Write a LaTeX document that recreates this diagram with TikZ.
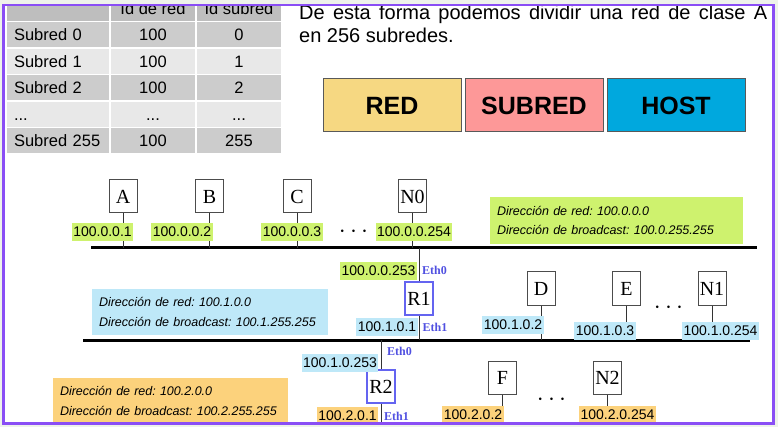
\documentclass[tikz,border=0pt]{standalone}
\usepackage{fontspec}
\setmainfont{Liberation Sans}
\newfontfamily\netserif{Liberation Serif}
\usepackage{tikz}
\usetikzlibrary{positioning}
\definecolor{framepurple}{RGB}{138,78,245}
\definecolor{outsidebg}{RGB}{238,242,234}
\definecolor{tabhead}{RGB}{190,190,190}
\definecolor{tabdark}{RGB}{204,204,204}
\definecolor{tablight}{RGB}{232,232,232}
\definecolor{redcol}{RGB}{246,216,130}
\definecolor{subredcol}{RGB}{253,152,152}
\definecolor{hostcol}{RGB}{0,168,222}
\definecolor{netgreen}{RGB}{206,242,110}
\definecolor{netcyan}{RGB}{190,232,248}
\definecolor{netorange}{RGB}{252,210,124}
\definecolor{ethblue}{RGB}{80,80,225}
\definecolor{routerblue}{RGB}{100,100,240}
\frenchspacing

\begin{document}
\begin{tikzpicture}[x=1pt,y=-1pt,
  cell/.style={fill=tabdark, minimum height=25pt, inner sep=0pt, text height=12pt, text depth=0pt, font=\fontsize{16.5}{19}\selectfont},
  cellL/.style={cell, text width=88pt, inner xsep=7pt, align=left},
  cellM/.style={cell, minimum width=84pt},
  field/.style={draw=black!65, line width=1pt, minimum width=138pt, minimum height=53pt, font=\bfseries\fontsize{25}{25}\selectfont},
  hostbox/.style={draw=black!70, fill=white, line width=1pt, minimum width=28pt, minimum height=33pt, inner sep=0pt, font=\netserif\fontsize{20}{20}\selectfont},
  routerbox/.style={hostbox, draw=routerblue, line width=1.4pt},
  ip/.style={inner sep=1.5pt, minimum height=18pt, font=\fontsize{14}{16}\selectfont},
  eth/.style={text=ethblue, inner sep=0pt, font=\netserif\bfseries\fontsize{12}{12}\selectfont},
  info/.style={inner xsep=7pt, inner ysep=0pt, align=left, font=\itshape\fontsize{12.5}{19.5}\selectfont},
  dots/.style={inner sep=0pt, font=\fontsize{26}{26}\selectfont},
  bus/.style={line width=3pt},
  link/.style={line width=0.9pt, black!80}]

\useasboundingbox (0,0) rectangle (778,427);
\fill[outsidebg] (0,0) rectangle (778,427);
\fill[white] (3.5,5) rectangle (773.5,423.5);

\begin{scope}
\clip (5,6) rectangle (772,422);

\node[cellL, fill=tabhead] (h1) at (58,8.5) {};
\node[cellM, fill=tabhead] (h2) at (153,8.5) {Id de red};
\node[cellM, fill=tabhead] (h3) at (239,8.5) {Id subred};

\node[cellL] (r0c1) at (58,35) {Subred 0};
\node[cellM] (r0c2) at (153,35) {100};
\node[cellM] (r0c3) at (239,35) {0};
\node[cellL, fill=tablight] (r1c1) at (58,61.5) {Subred 1};
\node[cellM, fill=tablight] (r1c2) at (153,61.5) {100};
\node[cellM, fill=tablight] (r1c3) at (239,61.5) {1};
\node[cellL] (r2c1) at (58,88) {Subred 2};
\node[cellM] (r2c2) at (153,88) {100};
\node[cellM] (r2c3) at (239,88) {2};
\node[cellL, fill=tablight] (r3c1) at (58,114.5) {...};
\node[cellM, fill=tablight] (r3c2) at (153,114.5) {...};
\node[cellM, fill=tablight] (r3c3) at (239,114.5) {...};
\node[cellL] (r4c1) at (58,141) {Subred 255};
\node[cellM] (r4c2) at (153,141) {100};
\node[cellM] (r4c3) at (239,141) {255};

\node[anchor=north west, inner sep=0pt, text width=468pt, align=justify, font=\fontsize{20}{23.3}\selectfont] (intro) at (299,5) {De esta forma podemos dividir una red de clase A\linebreak en 256 subredes.};

\node[field, fill=redcol] (red) at (392,105.5) {RED};
\node[field, fill=subredcol, right=3pt of red] (subred) {SUBRED};
\node[field, fill=hostcol, right=3pt of subred] (host) {HOST};

\coordinate (bus0w) at (91,248);
\coordinate (bus0e) at (757,248);
\coordinate (bus1w) at (83,340);
\coordinate (bus1e) at (750,340);
\coordinate (bottom) at (0,430);

\node[info, fill=netgreen, minimum width=253pt, minimum height=47pt, text width=239pt] (info0) at (616.5,220.5) {Dirección de red: 100.0.0.0\\Dirección de broadcast: 100.0.255.255};
\node[info, fill=netcyan, minimum width=236pt, minimum height=46pt, text width=222pt] (info1) at (210,312) {Dirección de red: 100.1.0.0\\Dirección de broadcast: 100.1.255.255};
\node[info, fill=netorange, minimum width=235pt, minimum height=46pt, text width=221pt] (info2) at (170.5,401) {Dirección de red: 100.2.0.0\\Dirección de broadcast: 100.2.255.255};

\draw[bus] (bus0w) -- (bus0e);
\draw[bus] (bus1w) -- (bus1e);

\node[hostbox] (A) at (123,196.5) {A};
\node[hostbox] (B) at (209.5,196.5) {B};
\node[hostbox] (C) at (297,196.5) {C};
\node[hostbox] (N0) at (412.5,196.5) {N0};
\node[routerbox] (R1) at (419,298.5) {R1};
\node[hostbox] (D) at (541,288.5) {D};
\node[hostbox] (E) at (626.5,288.5) {E};
\node[hostbox] (N1) at (712,288.5) {N1};
\node[routerbox] (R2) at (381,386.5) {R2};
\node[hostbox] (F) at (502.5,377.5) {F};
\node[hostbox] (N2) at (607.5,377.5) {N2};

\draw[link] (A) -- (A |- bus0w);
\draw[link] (B) -- (B |- bus0w);
\draw[link] (C) -- (C |- bus0w);
\draw[link] (N0) -- (N0 |- bus0w);
\draw[link] (R1) -- (R1 |- bus0w);
\draw[link] (R1) -- (R1 |- bus1w);
\draw[link] (D) -- (D |- bus1w);
\draw[link] (E) -- (E |- bus1w);
\draw[link] (N1) -- (N1 |- bus1w);
\draw[link] (R2) -- (R2 |- bus1w);
\draw[link] (R2) -- (R2 |- bottom);
\draw[link] (F) -- (F |- bottom);
\draw[link] (N2) -- (N2 |- bottom);

\node[ip, fill=netgreen] (ipA) at (102.5,232) {100.0.0.1};
\node[ip, fill=netgreen] (ipB) at (182,232) {100.0.0.2};
\node[ip, fill=netgreen] (ipC) at (292,232) {100.0.0.3};
\node[ip, fill=netgreen] (ipN0) at (414,232) {100.0.0.254};
\node[ip, fill=netgreen] (ipR1a) at (378.5,271) {100.0.0.253};
\node[ip, fill=netcyan] (ipR1b) at (387,326.5) {100.1.0.1};
\node[ip, fill=netcyan] (ipD) at (513,325) {100.1.0.2};
\node[ip, fill=netcyan] (ipE) at (605,330.5) {100.1.0.3};
\node[ip, fill=netcyan] (ipN1) at (720.5,330.5) {100.1.0.254};
\node[ip, fill=netcyan] (ipR2a) at (340,362.5) {100.1.0.253};
\node[ip, fill=netorange] (ipR2b) at (347.5,416) {100.2.0.1};
\node[ip, fill=netorange] (ipF) at (473,415) {100.2.0.2};
\node[ip, fill=netorange] (ipN2) at (617.5,415) {100.2.0.254};

\node[eth] (eth0a) at (434.5,270) {Eth0};
\node[eth] (eth1a) at (435,327) {Eth1};
\node[eth] (eth0b) at (399.5,351) {Eth0};
\node[eth] (eth1b) at (396.5,416) {Eth1};

\node[dots] (dots0) at (353.5,232) {$\cdots$};
\node[dots] (dots1) at (668.5,308) {$\cdots$};
\node[dots] (dots2) at (551.5,400) {$\cdots$};
\end{scope}

\draw[framepurple, line width=2.5pt] (3.5,5) rectangle (773.5,423.5);

\end{tikzpicture}
\end{document}
